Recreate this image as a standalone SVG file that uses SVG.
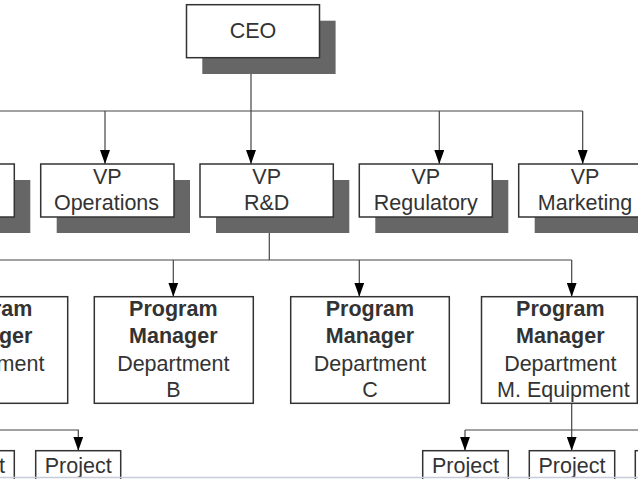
<svg xmlns="http://www.w3.org/2000/svg" width="638" height="479" viewBox="0 0 638 479">
<style>
.box{fill:#fff;stroke:#333;stroke-width:1.5}
.sh{fill:#666}
.t{font-family:"Liberation Sans",Arial,sans-serif;font-size:21.5px;fill:#333;text-anchor:middle}
.b{font-weight:bold}
.ln{fill:none;stroke:#444;stroke-width:1.2}
</style>
<defs>
<marker id="ah" viewBox="0 0 14 10" markerWidth="14" markerHeight="10" refX="14" refY="5" orient="auto" markerUnits="userSpaceOnUse">
<path d="M0,0 L14,5 L0,10 Z" fill="#000"/>
</marker>
</defs>
<rect width="638" height="479" fill="#fff"/>

<g id="connectors">
<path class="ln" d="M251,58 V164" marker-end="url(#ah)"/>
<path class="ln" d="M0,111 H582.7"/>
<path class="ln" d="M105,111 V164" marker-end="url(#ah)"/>
<path class="ln" d="M439.3,111 V164" marker-end="url(#ah)"/>
<path class="ln" d="M582.7,111 V164" marker-end="url(#ah)"/>
<path class="ln" d="M269.3,260 V217.5" marker-end="url(#ah)"/>
<path class="ln" d="M0,260 H571.7"/>
<path class="ln" d="M173.3,260 V296.7" marker-end="url(#ah)"/>
<path class="ln" d="M359.3,260 V296.7" marker-end="url(#ah)"/>
<path class="ln" d="M571.7,260 V296.7" marker-end="url(#ah)"/>
<path class="ln" d="M571.7,403.3 V450.7" marker-end="url(#ah)"/>
<path class="ln" d="M465,430 H638"/>
<path class="ln" d="M465,430 V450.7" marker-end="url(#ah)"/>
<path class="ln" d="M0,430 H78.3 V450.7" marker-end="url(#ah)"/>
</g>

<g id="ceo">
<rect class="sh" x="202.3" y="20.7" width="133.3" height="53.3"/>
<rect class="box" x="186.5" y="4.7" width="133" height="53"/>
<text class="t" x="253" y="37.8">CEO</text>
</g>

<g id="vp-left">
<rect class="sh" x="-103" y="180" width="133.3" height="53"/>
<rect class="box" x="-119" y="164" width="133.3" height="53"/>
</g>

<g id="vp-operations">
<rect class="sh" x="56.7" y="180" width="133.3" height="53"/>
<rect class="box" x="40.7" y="164" width="133.3" height="53"/>
<text class="t" x="107.3" y="184.3">VP</text>
<text class="t" x="106.5" y="210">Operations</text>
</g>

<g id="vp-rd">
<rect class="sh" x="216" y="180" width="133.3" height="53"/>
<rect class="box" x="200" y="164" width="133.3" height="53"/>
<text class="t" x="266.7" y="184.3">VP</text>
<text class="t" x="266.7" y="210">R&amp;D</text>
</g>

<g id="vp-regulatory">
<rect class="sh" x="375.3" y="180" width="133" height="53"/>
<rect class="box" x="359.3" y="164" width="133" height="53"/>
<text class="t" x="425.8" y="184.3">VP</text>
<text class="t" x="425.8" y="210">Regulatory</text>
</g>

<g id="vp-marketing">
<rect class="sh" x="534.7" y="180" width="133" height="53"/>
<rect class="box" x="518.7" y="164" width="133" height="53"/>
<text class="t" x="585" y="184.3">VP</text>
<text class="t" x="585" y="210">Marketing</text>
</g>

<g id="pm-a">
<rect class="box" x="-91.3" y="296.7" width="159" height="106.6"/>
<text class="t b" x="-11.8" y="316">Program</text>
<text class="t b" x="-11.8" y="343.3">Manager</text>
<text class="t" x="-11.8" y="370.7">Department</text>
</g>

<g id="pm-b">
<rect class="box" x="94.3" y="296.7" width="159" height="106.6"/>
<text class="t b" x="173.3" y="316">Program</text>
<text class="t b" x="173.3" y="343.3">Manager</text>
<text class="t" x="173.3" y="370.7">Department</text>
<text class="t" x="173.3" y="397.3">B</text>
</g>

<g id="pm-c">
<rect class="box" x="290.7" y="296.7" width="158.6" height="106.6"/>
<text class="t b" x="370" y="316">Program</text>
<text class="t b" x="370" y="343.3">Manager</text>
<text class="t" x="370" y="370.7">Department</text>
<text class="t" x="370" y="397.3">C</text>
</g>

<g id="pm-equipment">
<rect class="box" x="481.5" y="296.7" width="155.8" height="106.6"/>
<text class="t b" x="560.3" y="316">Program</text>
<text class="t b" x="560.3" y="343.3">Manager</text>
<text class="t" x="560.3" y="370.7">Department</text>
<text class="t" x="563.4" y="397">M. Equipment</text>
</g>

<g id="project-left">
<rect class="box" x="-71.3" y="450.7" width="85.6" height="34"/>
<text class="t" x="-28.5" y="472.8">Project</text>
</g>
<g id="project-1">
<rect class="box" x="35.7" y="450.7" width="85" height="34"/>
<text class="t" x="78.2" y="472.8">Project</text>
</g>
<g id="project-2">
<rect class="box" x="422.7" y="450.7" width="85.6" height="34"/>
<text class="t" x="465.5" y="472.8">Project</text>
</g>
<g id="project-3">
<rect class="box" x="529.3" y="450.7" width="85.4" height="34"/>
<text class="t" x="572" y="472.8">Project</text>
</g>
<g id="project-4">
<rect class="box" x="635.3" y="450.7" width="85.6" height="34"/>
</g>
<line x1="0" y1="477.5" x2="638" y2="477.5" stroke="#c8ccd6" stroke-width="1.5"/>
</svg>
